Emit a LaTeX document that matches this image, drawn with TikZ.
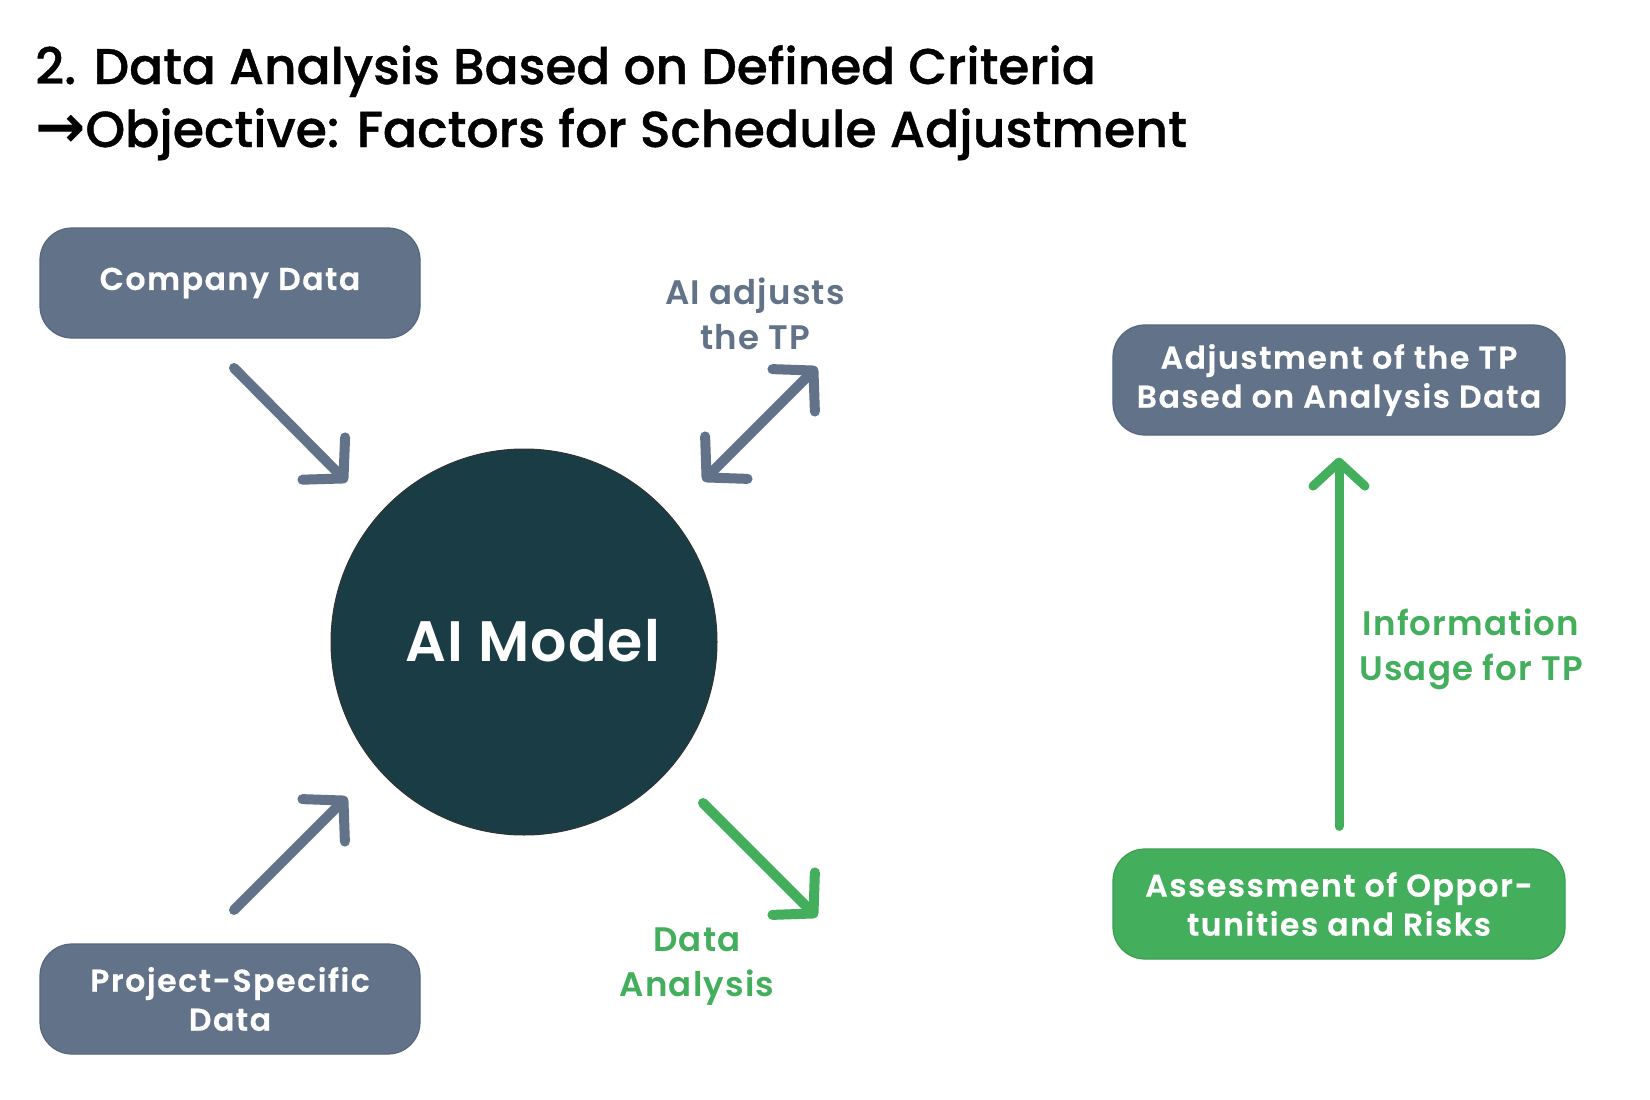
\documentclass[tikz,border=0pt]{standalone}
\usepackage{fontspec}
\setmainfont{Poppins}
\newfontfamily\dejavu{DejaVu Sans}
\newfontfamily\titlefont{Poppins Medium}[FakeBold=0.8]
\newfontfamily\boxfont{Poppins SemiBold}[LetterSpace=5,FakeBold=0.4]
\newfontfamily\lblfont{Poppins SemiBold}[LetterSpace=3.5]
\newfontfamily\bigfont{Poppins SemiBold}[LetterSpace=2]
\usetikzlibrary{arrows.meta,calc}
\definecolor{slate}{HTML}{627389}
\definecolor{slateline}{HTML}{56667B}
\definecolor{tealdark}{HTML}{1A3D45}
\definecolor{grn}{HTML}{43AE5C}
\definecolor{grnline}{HTML}{3A9E52}
\begin{document}
\begin{tikzpicture}[x=1pt,y=-1pt,
  box/.style={rounded corners=32pt, minimum width=380pt, minimum height=110pt,
    align=center, text=white, inner sep=0pt, line width=1.2pt,
    font=\boxfont\fontsize{31.5}{39}\selectfont},
  slatebox/.style={box, fill=slate, draw=slateline},
  greenbox/.style={box, fill=grn, draw=grnline},
  lbl/.style={align=center, inner sep=0pt, font=\lblfont\fontsize{34}{45}\selectfont},
  flow/.style={line width=10pt, line cap=round,
    -{Straight Barb[length=28pt,width=60pt,round]}},
  flowboth/.style={line width=10pt, line cap=round,
    {Straight Barb[length=28pt,width=60pt,round]}-{Straight Barb[length=28pt,width=60pt,round]}}
]
\useasboundingbox[fill=white] (0,0) rectangle (1650,1100);

% title
\node[anchor=base west, inner sep=0pt, font=\titlefont\fontsize{50.2}{60}\selectfont] (title1) at (35,84)
  {2. Data Analysis Based on Defined Criteria};
\node[anchor=base west, inner sep=0pt, font=\titlefont\fontsize{50.6}{60}\selectfont] (title2) at (35,147)
  {{\dejavu\bfseries\fontsize{60}{60}\selectfont →}Objective: Factors for Schedule Adjustment};

% nodes
\node[slatebox] (company) at (230,283) {Company Data};
\node[slatebox] (project) at (230,999) {\raisebox{-4pt}{Project-Specific}\\\raisebox{-4pt}{Data}};
\node[circle, fill=tealdark, draw=black!80, line width=1pt, minimum size=386pt, inner sep=0pt,
  text=white, font=\bigfont\fontsize{57}{60}\selectfont] (ai) at (524,642)
  {\hspace*{18pt}\raisebox{3pt}{AI Model}};
\node[slatebox, minimum width=452pt] (adjust) at (1339,380) {Adjustment of the TP\\Based on Analysis Data};
\node[greenbox, minimum width=452pt] (assess) at (1339,904) {Assessment of Oppor-\\tunities and Risks};

% labels
\node[lbl, text=slate] (lblai) at (755,314) {AI adjusts\\the TP};
\node[lbl, text=grn] (lblda) at (697,967) {Data\\Analysis};
\node[lbl, text=grn] (lblinfo) at (1471,649) {Information\\Usage for TP};

% connector end points
\coordinate (c1s) at (234,368);
\coordinate (c1e) at (347,482);
\coordinate (c2s) at (234,910);
\coordinate (c2e) at (347,797);
\coordinate (c3s) at (703,481);
\coordinate (c3e) at (817,367);
\coordinate (c4s) at (703,803);
\coordinate (c4e) at (817,917);
\coordinate (c5s) at ($(assess.north)+(0,-22)$);
\coordinate (c5e) at ($(adjust.south)+(0,22)$);

\draw[flow, slate] (c1s) -- (c1e);
\draw[flow, slate] (c2s) -- (c2e);
\draw[flowboth, slate] (c3s) -- (c3e);
\draw[flow, grn] (c4s) -- (c4e);
\draw[line width=9pt, line cap=round, grn,
  -{Straight Barb[length=24pt,width=52pt,round]}] (c5s) -- (c5e);
\end{tikzpicture}
\end{document}
